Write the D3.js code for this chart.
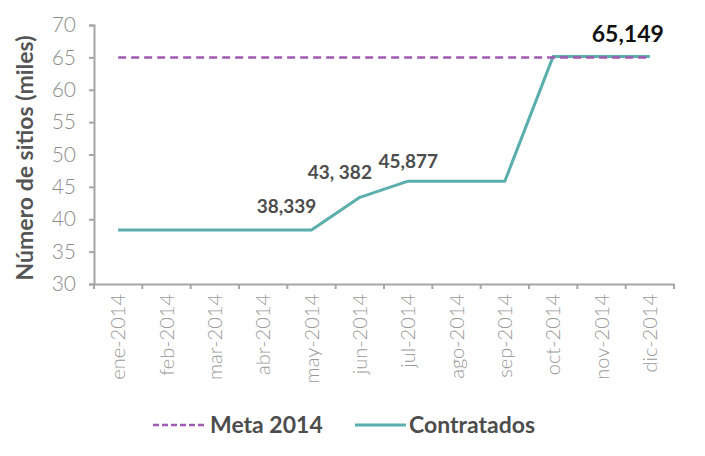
<!DOCTYPE html>
<html><head><meta charset="utf-8">
<script src="https://cdn.jsdelivr.net/npm/d3@7"></script>
<style>
body{margin:0;background:#fff;}
svg{display:block;}
</style></head>
<body>
<svg id="c" width="705" height="456"></svg>
<script>
const months = ["ene-2014","feb-2014","mar-2014","abr-2014","may-2014","jun-2014","jul-2014","ago-2014","sep-2014","oct-2014","nov-2014","dic-2014"];
const contratados = [38.339,38.339,38.339,38.339,38.339,43.382,45.877,45.877,45.877,65.149,65.149,65.149];
const meta = [65,65,65,65,65,65,65,65,65,65,65,65];
const yTicks = [30,35,40,45,50,55,60,65,70];
const annotations = [
  {month:"may-2014", text:"38,339", value:38.339},
  {month:"jun-2014", text:"43, 382", value:43.382},
  {month:"jul-2014", text:"45,877", value:45.877},
  {month:"dic-2014", text:"65,149", value:65.149}
];
const seriesNames = ["Meta 2014","Contratados"];

(function(){
const svg = d3.select("#c");
const mL = 94, mR = 674, mT = 25, mB = 284;
const x = d3.scaleBand().domain(months).range([mL,mR]);
const y = d3.scaleLinear().domain([30,70]).range([mB,mT]);
const cx = m => x(m) + x.bandwidth()/2;

const axisColor = "#a6a6a6";
const light = "Lato, 'Open Sans', sans-serif";

// Y axis
const ya = svg.append("g").attr("transform",`translate(${mL},0)`)
  .call(d3.axisLeft(y).tickValues(yTicks).tickSize(5).tickPadding(13).tickFormat(d3.format("d")));
ya.select(".domain").attr("stroke",axisColor).attr("stroke-width",2);
ya.selectAll(".tick line").attr("stroke",axisColor).attr("stroke-width",2);
ya.selectAll(".tick text").attr("fill","#8c8c8c").attr("font-family",light).attr("font-weight",300).attr("font-size",21);

// X axis
const xa = svg.append("g").attr("transform",`translate(0,${mB})`)
  .call(d3.axisBottom(x).tickSize(0).tickPadding(0));
xa.select(".domain").attr("stroke",axisColor).attr("stroke-width",2);
xa.selectAll(".tick line").remove();
xa.selectAll("line.bt").data(d3.range(months.length+1)).enter().append("line")
  .attr("class","bt")
  .attr("x1",i=>mL + i*x.step()).attr("x2",i=>mL + i*x.step())
  .attr("y1",0).attr("y2",5).attr("stroke",axisColor).attr("stroke-width",2);
xa.selectAll(".tick text")
  .attr("fill","#999").attr("font-family",light).attr("font-weight",300).attr("font-size",20)
  .attr("text-anchor","end").attr("dy","0.35em")
  .attr("transform","translate(0,10) rotate(-90)").attr("x",0).attr("y",0);

// Y title
svg.append("text").attr("transform",`translate(33,158) rotate(-90)`)
  .attr("text-anchor","middle").attr("font-family","Lato, sans-serif").attr("font-weight",700)
  .attr("font-size",23).attr("fill","#555").text("Número de sitios (miles)");

// Lines
const line = d3.line().x((d,i)=>cx(months[i])).y(d=>y(d));
svg.append("path").datum(contratados).attr("d",line).attr("fill","none")
  .attr("stroke","#5aaeab").attr("stroke-width",3).attr("stroke-linejoin","round");
svg.append("path").datum(meta).attr("d",line).attr("fill","none")
  .attr("stroke","#a05ab0").attr("stroke-width",2.5).attr("stroke-dasharray","8,5");

// Annotations
const annOffsets = {"may-2014":[-25,-17],"jun-2014":[-20,-18],"jul-2014":[0,-13],"dic-2014":[-22,-14]};
annotations.forEach(a=>{
  const o = annOffsets[a.month];
  svg.append("text").attr("x",cx(a.month)+o[0]).attr("y",y(a.value)+o[1])
    .attr("text-anchor","middle").attr("font-family","Lato, sans-serif").attr("font-weight",700)
    .attr("font-size", a.month==="dic-2014"?23:19)
    .attr("fill", a.month==="dic-2014"?"#111":"#4d4d4d").text(a.text);
});

// Legend
const lg = svg.append("g");
lg.append("line").attr("x1",153).attr("x2",206).attr("y1",425).attr("y2",425)
  .attr("stroke","#a05ab0").attr("stroke-width",2.5).attr("stroke-dasharray","6,3");
lg.append("text").attr("x",210).attr("y",433).attr("font-family","Lato, sans-serif").attr("font-weight",700)
  .attr("font-size",23).attr("fill","#4d4d4d").text(seriesNames[0]);
lg.append("line").attr("x1",355).attr("x2",406).attr("y1",425).attr("y2",425)
  .attr("stroke","#5aaeab").attr("stroke-width",3);
lg.append("text").attr("x",409).attr("y",433).attr("font-family","Lato, sans-serif").attr("font-weight",700)
  .attr("font-size",23).attr("fill","#4d4d4d").text(seriesNames[1]);
})();
</script>
</body></html>
